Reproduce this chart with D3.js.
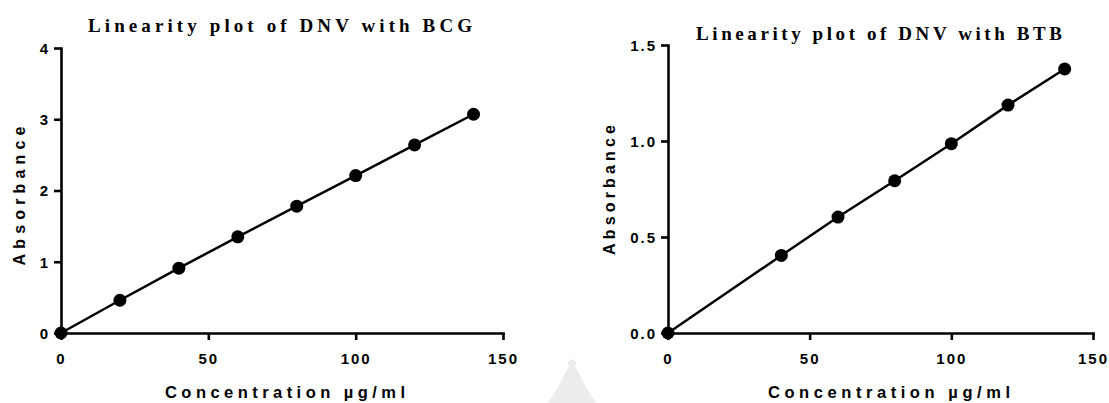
<!DOCTYPE html>
<html>
<head>
<meta charset="utf-8">
<script src="https://cdn.jsdelivr.net/npm/d3@7"></script>
<style>
  body { margin: 0; background: #fff; }
  svg { display: block; }
  .tick text { font-family: "Liberation Sans", Arial, sans-serif; font-weight: bold; font-size: 15px; letter-spacing: 2px; fill: #000; }
</style>
</head>
<body>
<div id="chart"></div>
<script>
// ============================
// Data
// ============================
const concBCG = [0, 20, 40, 60, 80, 100, 120, 140];
const absBCG  = [0, 0.46, 0.91, 1.35, 1.78, 2.21, 2.64, 3.07];

const concBTB = [0, 40, 60, 80, 100, 120, 140];
const absBTB  = [0, 0.404, 0.604, 0.793, 0.986, 1.187, 1.375];

const xTicks = [0, 50, 100, 150];
const yTicksBCG = [0, 1, 2, 3, 4];
const yTicksBTB = [0, 0.5, 1.0, 1.5];

const titles = ["Linearity plot of DNV with BCG", "Linearity plot of DNV with BTB"];
const xLabel = "Concentration µg/ml";
const yLabel = "Absorbance";

const width = 1109, height = 403;

const svg = d3.select("#chart").append("svg")
  .attr("width", width)
  .attr("height", height);

// faint watermark at the bottom
svg.append("path")
  .attr("d", "M548,403 Q560,385 569,366 a4,4 0 1,1 6,0 Q584,385 596,403 Z")
  .attr("fill", "#ececec");

// ============================
// One panel
// ============================
function drawPanel(opt) {
  const xscale = d3.scaleLinear().domain([0, 150]).range(opt.xr);
  const yscale = d3.scaleLinear().domain(opt.yDomain).range(opt.yr);

  const g = svg.append("g");

  // axes
  const xAxis = d3.axisBottom(xscale)
    .tickValues(xTicks)
    .tickFormat(d3.format("d"))
    .tickSize(7).tickSizeOuter(0).tickPadding(13);
  const yAxis = d3.axisLeft(yscale)
    .tickValues(opt.yTicks)
    .tickFormat(opt.yFormat)
    .tickSize(7).tickSizeOuter(0).tickPadding(4);

  const gx = g.append("g").attr("transform", `translate(0,${opt.yr[0]})`).call(xAxis);
  const gy = g.append("g").attr("transform", `translate(${opt.xr[0]},0)`).call(yAxis);

  [gx, gy].forEach(a => {
    a.selectAll("path.domain").attr("stroke", "#000").attr("stroke-width", 2.6).attr("stroke-linecap", "square");
    a.selectAll(".tick line").attr("stroke", "#000").attr("stroke-width", 2.6);
  });
  gy.selectAll(".tick text").attr("dy", "0.36em");

  // line + markers
  const pts = opt.xs.map((x, i) => ({ x: x, y: opt.ys[i] }));

  const line = d3.line()
    .x(d => xscale(d.x))
    .y(d => yscale(d.y));

  g.append("path")
    .datum(pts)
    .attr("d", line)
    .attr("fill", "none")
    .attr("stroke", "#000")
    .attr("stroke-width", 2.5);

  g.selectAll("circle")
    .data(pts)
    .join("circle")
    .attr("cx", d => xscale(d.x))
    .attr("cy", d => yscale(d.y))
    .attr("r", 6.5)
    .attr("fill", "#000");

  // title
  g.append("text")
    .attr("x", opt.title.x)
    .attr("y", opt.title.y)
    .attr("text-anchor", "middle")
    .attr("font-family", "'Liberation Serif', 'Times New Roman', serif")
    .attr("font-weight", "bold")
    .attr("font-size", 19)
    .attr("textLength", opt.title.len)
    .attr("lengthAdjust", "spacing")
    .text(opt.title.text);

  // x label
  g.append("text")
    .attr("x", opt.xl.x)
    .attr("y", opt.xl.y)
    .attr("text-anchor", "middle")
    .attr("font-family", "'Liberation Sans', Arial, sans-serif")
    .attr("font-weight", "bold")
    .attr("font-size", 16.5)
    .attr("textLength", opt.xl.len)
    .attr("lengthAdjust", "spacing")
    .text(xLabel);

  // y label
  g.append("text")
    .attr("transform", `translate(${opt.yl.x},${opt.yl.y}) rotate(-90)`)
    .attr("text-anchor", "middle")
    .attr("font-family", "'Liberation Sans', Arial, sans-serif")
    .attr("font-weight", "bold")
    .attr("font-size", 16)
    .attr("textLength", opt.yl.len)
    .attr("lengthAdjust", "spacing")
    .text(yLabel);
}

drawPanel({
  xs: concBCG, ys: absBCG,
  xr: [61, 503], yr: [333, 48],
  yDomain: [0, 4], yTicks: yTicksBCG, yFormat: d3.format("d"),
  title: { text: titles[0], x: 280, y: 32, len: 384 },
  xl: { x: 285, y: 398, len: 240 },
  yl: { x: 25, y: 196, len: 139 }
});

drawPanel({
  xs: concBTB, ys: absBTB,
  xr: [668, 1093], yr: [333, 45],
  yDomain: [0, 1.5], yTicks: yTicksBTB, yFormat: d3.format(".1f"),
  title: { text: titles[1], x: 879, y: 40, len: 366 },
  xl: { x: 889, y: 398, len: 242 },
  yl: { x: 615, y: 190, len: 130 }
});
</script>
</body>
</html>
